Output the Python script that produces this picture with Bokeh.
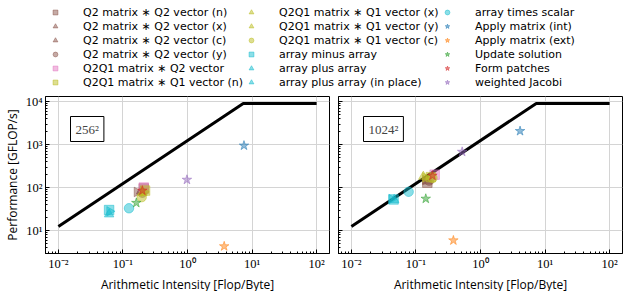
import math
from bokeh.plotting import figure
from bokeh.models import (Legend, LegendItem, Label, Range1d, CustomJSTickFormatter)
from bokeh.layouts import column, row
from bokeh.embed import file_html
from bokeh.resources import INLINE

# ---------------- data ----------------
series_labels = [
    "Q2 matrix \u2217 Q2 vector (n)",
    "Q2 matrix \u2217 Q2 vector (x)",
    "Q2 matrix \u2217 Q2 vector (c)",
    "Q2 matrix \u2217 Q2 vector (y)",
    "Q2Q1 matrix \u2217 Q2 vector",
    "Q2Q1 matrix \u2217 Q1 vector (n)",
    "Q2Q1 matrix \u2217 Q1 vector (x)",
    "Q2Q1 matrix \u2217 Q1 vector (y)",
    "Q2Q1 matrix \u2217 Q1 vector (c)",
    "array minus array",
    "array plus array",
    "array plus array (in place)",
    "array times scalar",
    "Apply matrix (int)",
    "Apply matrix (ext)",
    "Update solution",
    "Form patches",
    "weighted Jacobi",
]

# 256^2 problem: arithmetic intensity [Flop/Byte] and performance [GFLOP/s]
ai_256 = [0.21, 0.19, 0.165, 0.20, 0.21, 0.22, 0.20, 0.21, 0.195,
          0.061, 0.061, 0.062, 0.124, 7.5, 3.7, 0.161, 0.20, 0.98]
perf_256 = [95, 82, 79, 76, 100, 85, 76, 80, 60,
            30, 24, 28, 33, 950, 4.3, 44, 85, 152]

# 1024^2 problem
ai_1024 = [0.15, 0.15, 0.14, 0.16, 0.195, 0.17, 0.13, 0.14, 0.18,
           0.045, 0.046, 0.042, 0.077, 4.1, 0.38, 0.142, 0.18, 0.52]
perf_1024 = [130, 140, 150, 145, 200, 175, 180, 172, 168,
             53, 52, 54, 80, 2070, 5.9, 55, 190, 680]

# roofline (bandwidth slope, then compute peak)
roof_ai = [0.01, 7.3, 100]
roof_perf = [12.5, 9100, 9100]

panel_titles = ["256\u00b2", "1024\u00b2"]

# ---------------- styles ----------------
BROWN, PINK, OLIVE, CYAN = "#8c564b", "#e377c2", "#bcbd22", "#17becf"
colors = [BROWN] * 4 + [PINK] + [OLIVE] * 4 + [CYAN] * 4 + \
         ["#1f77b4", "#ff7f0e", "#2ca02c", "#d62728", "#9467bd"]
R = -math.pi / 2
markers = ["square", "triangle", "triangle", "circle",
           "square",
           "square", "triangle", "triangle", "circle",
           "square", "triangle", "triangle", "circle",
           "star", "star", "star", "star", "star"]
angles = [0, 0, R, 0,
          0,
          0, 0, R, 0,
          0, 0, R, 0,
          0, 0, 0, 0, 0]
sizes = [9.5] * 13 + [10] * 5
ALPHA = 0.5

SANS = "Open Sans"
LEG_SANS = "DejaVu Sans"
SERIF = "Liberation Serif"

sup_js = """
const sup = {"-":"\u207b","0":"\u2070","1":"\u00b9","2":"\u00b2","3":"\u00b3",
             "4":"\u2074","5":"\u2075","6":"\u2076","7":"\u2077","8":"\u2078","9":"\u2079"};
const e = Math.round(Math.log10(tick));
return "10" + String(e).split("").map(c => sup[c]).join("");
"""

FW, FH = 284, 157


def make_panel(ai, perf, title, first):
    p = figure(x_axis_type="log", y_axis_type="log",
               x_range=Range1d(10 ** -2.2, 10 ** 2.2),
               y_range=Range1d(10 ** 0.466, 10 ** 4.12),
               frame_width=FW, frame_height=FH,
               output_backend="svg", toolbar_location=None,
               min_border_left=36 if first else 5,
               min_border_right=4 if first else 3,
               min_border_top=6, min_border_bottom=33)
    p.outline_line_color = "black"
    p.outline_line_width = 1
    p.background_fill_color = "white"
    p.border_fill_color = "white"
    for ax in (p.xaxis[0], p.yaxis[0]):
        ax.major_tick_in = 4
        ax.major_tick_out = 0
        ax.minor_tick_in = 2
        ax.minor_tick_out = 0
        ax.axis_line_color = "black"
        ax.major_tick_line_color = "black"
        ax.minor_tick_line_color = "black"
        ax.formatter = CustomJSTickFormatter(code=sup_js)
        ax.major_label_text_font = SERIF
        ax.major_label_text_font_size = "12.5px"
        ax.major_label_text_color = "black"
        ax.major_label_standoff = 3
        ax.axis_label_text_font = SANS
        ax.axis_label_text_font_size = "12px"
        ax.axis_label_text_font_style = "normal"
        ax.axis_label_text_color = "black"
        ax.axis_label_standoff = 2
    p.xaxis.axis_label = "Arithmetic Intensity [Flop/Byte]"
    if first:
        p.yaxis.axis_label = "Performance [GFLOP/s]"
    else:
        p.yaxis.formatter = CustomJSTickFormatter(code="return '';")
        p.yaxis.major_label_standoff = 0
    p.grid.grid_line_color = "#d4d4d4"
    p.grid.grid_line_width = 1

    p.line(roof_ai, roof_perf, line_width=3, color="black")
    for i in range(len(series_labels)):
        p.scatter(x=[ai[i]], y=[perf[i]], marker=markers[i], angle=angles[i],
                  size=sizes[i], fill_color=colors[i], line_color=colors[i],
                  fill_alpha=ALPHA, line_alpha=ALPHA)

    p.add_layout(Label(x=25, y=FH - 20, x_units="screen", y_units="screen",
                       text=title, text_font=SERIF, text_font_size="13px",
                       text_baseline="top", text_align="left",
                       padding=5, border_line_color="black", border_line_width=1,
                       background_fill_color="white"))
    return p


p1 = make_panel(ai_256, perf_256, panel_titles[0], True)
p2 = make_panel(ai_1024, perf_1024, panel_titles[1], False)

# legend strip: renderers carry the 256^2 points, which fall outside this strip's
# unit ranges, so only their legend swatches are visible
leg = figure(width=616, height=90, output_backend="svg", toolbar_location=None,
             x_range=Range1d(0, 1), y_range=Range1d(0, 1),
             x_axis_location=None, y_axis_location=None,
             min_border_left=49, min_border_right=0, min_border_top=5, min_border_bottom=0)
leg.outline_line_color = None
leg.grid.visible = False
items = []
for i, lab in enumerate(series_labels):
    r = leg.scatter(x=[ai_256[i]], y=[perf_256[i]], marker=markers[i], angle=angles[i],
                    size=sizes[i], fill_color=colors[i], line_color=colors[i],
                    fill_alpha=ALPHA, line_alpha=ALPHA)
    items.append(LegendItem(label=lab, renderers=[r]))
legend = Legend(items=items, nrows=6, orientation="vertical", location="top_left",
                margin=0, padding=0, spacing=0, glyph_width=12, glyph_height=12,
                label_height=14, label_width=162, label_standoff=22,
                label_text_font=LEG_SANS, label_text_font_size="11px",
                label_text_color="black",
                border_line_color=None, background_fill_alpha=0)
leg.add_layout(legend)

layout = column(leg, row(p1, p2))
open("out.html", "w").write(file_html(layout, INLINE))
